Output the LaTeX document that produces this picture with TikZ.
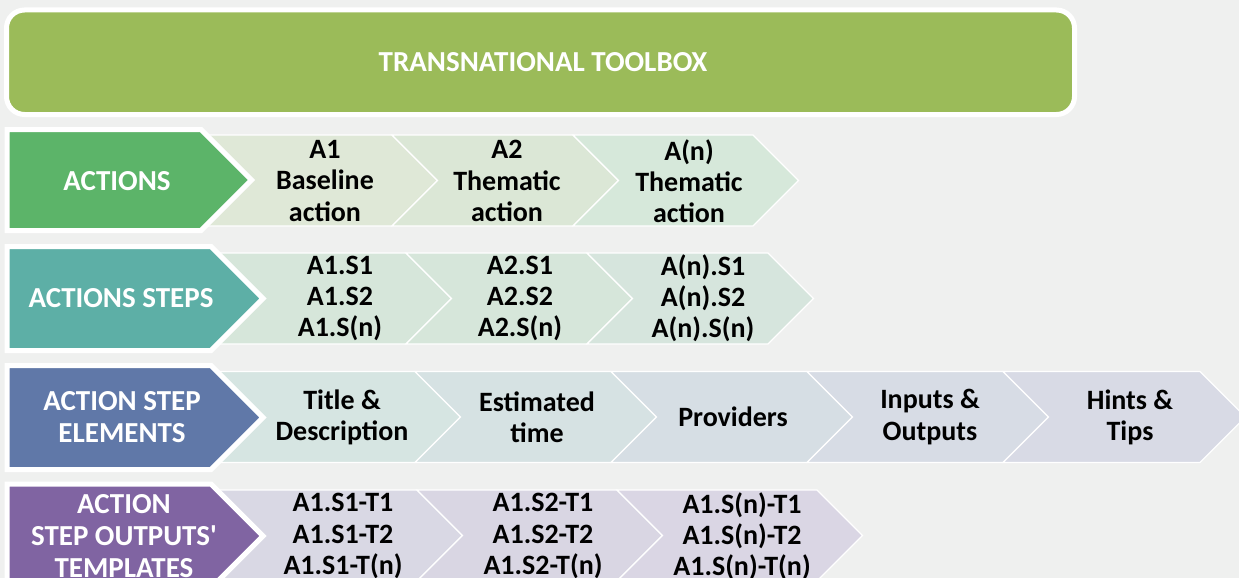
\documentclass[tikz,border=0pt]{standalone}
\usepackage{fontspec}
\setmainfont{Carlito}
\definecolor{bgcol}{RGB}{239,240,239}
\definecolor{bannergreen}{RGB}{155,187,89}
\definecolor{mgreen}{RGB}{92,180,105}
\definecolor{mteal}{RGB}{93,175,166}
\definecolor{mblue}{RGB}{96,120,168}
\definecolor{mpurple}{RGB}{128,100,162}
\definecolor{la}{RGB}{223,232,215}
\definecolor{lb}{RGB}{219,231,214}
\definecolor{lc}{RGB}{214,232,218}
\definecolor{ld}{RGB}{214,230,218}
\definecolor{le}{RGB}{214,229,221}
\definecolor{lf}{RGB}{214,229,224}
\definecolor{lg}{RGB}{214,229,226}
\definecolor{lh}{RGB}{214,226,227}
\definecolor{li}{RGB}{214,222,228}
\definecolor{lj}{RGB}{215,220,229}
\definecolor{lk}{RGB}{216,218,229}
\definecolor{ll}{RGB}{217,216,228}
\definecolor{lm}{RGB}{217,214,227}
\definecolor{ln}{RGB}{218,214,228}
% light chevron with notch: color, left x, width, centre y
\newcommand\lchev[4]{%
  \path[lchevstyle, fill=#1] (#2,#4-45.5) -- (#2+#3,#4-45.5) -- (#2+#3+45.5,#4)
    -- (#2+#3,#4+45.5) -- (#2,#4+45.5) -- (#2+45.5,#4) -- cycle;}
% first light chevron, flat left edge hidden behind the main chevron
\newcommand\fchev[3]{%
  \path[lchevstyle, fill=#1] (150,#3-45.5) -- (#2,#3-45.5) -- (#2+45.5,#3)
    -- (#2,#3+45.5) -- (150,#3+45.5) -- cycle;}
% main chevron: color, corner x, centre y, half height
\newcommand\mchev[4]{%
  \path[mchevstyle, fill=#1] (7,#3-#4) -- (#2,#3-#4) -- (#2+#4,#3)
    -- (#2,#3+#4) -- (7,#3+#4) -- cycle;}
\begin{document}
\begin{tikzpicture}[x=1pt,y=-1pt,
  lchevstyle/.style={draw=white, line width=1.2pt, line join=miter},
  mchevstyle/.style={draw=white, line width=5pt, line join=miter},
  lbl/.style={font=\bfseries\fontsize{28}{31.2}\selectfont, align=center, text=black, inner sep=0pt},
  mlbl/.style={lbl, font=\bfseries\fontsize{29}{31.8}\selectfont, text=white}]
\clip (0,0) rectangle (1239,578);
\fill[bgcol] (0,0) rectangle (1239,578);
% banner
\path[draw=white, line width=5pt, fill=bannergreen, rounded corners=18pt] (6.5,10) rectangle (1074.5,114.5);
\node[mlbl, font=\bfseries\fontsize{29}{31}\selectfont] (title) at (543,62) {TRANSNATIONAL TOOLBOX};
% row 1
\fchev{la}{392}{180.5}
\lchev{lb}{392}{181}{180.5}
\lchev{lc}{573}{180}{180.5}
\mchev{mgreen}{201}{180}{50.5}
\node[mlbl] (actions) at (117,181) {ACTIONS};
\node[lbl] (a1) at (325,181) {A1\\Baseline\\action};
\node[lbl] (a2) at (507,181) {A2\\Thematic\\action};
\node[lbl] (an) at (689,181) {A(n)\\Thematic\\action};
% row 2
\fchev{ld}{406}{298.5}
\lchev{ld}{406}{181}{298.5}
\lchev{le}{587}{181}{298.5}
\mchev{mteal}{211}{298.5}{52}
\node[mlbl] (steps) at (121,298.5) {ACTIONS STEPS};
\node[lbl] (s1) at (340,298.5) {A1.S1\\A1.S2\\A1.S(n)};
\node[lbl] (s2) at (520,298.5) {A2.S1\\A2.S2\\A2.S(n)};
\node[lbl] (sn) at (703,298.5) {A(n).S1\\A(n).S2\\A(n).S(n)};
% row 3
\fchev{lg}{415}{417}
\lchev{lh}{415}{196}{417}
\lchev{li}{611}{196}{417}
\lchev{lj}{807}{196}{417}
\lchev{lk}{1003}{197}{417}
\mchev{mblue}{211}{417.5}{52}
\node[mlbl] (elements) at (122,417) {ACTION STEP\\ELEMENTS};
\node[lbl] (e1) at (342,417) {Title \&\\Description};
\node[lbl] (e2) at (537,417) {Estimated\\time};
\node[lbl] (e3) at (733,417) {Providers};
\node[lbl] (e4) at (930,417) {Inputs \&\\Outputs};
\node[lbl] (e5) at (1130,417) {Hints \&\\Tips};
% row 4
\fchev{ll}{417}{535.5}
\lchev{lm}{417}{200}{535.5}
\lchev{ln}{617}{200}{535.5}
\mchev{mpurple}{211}{536}{52}
\node[mlbl] (templates) at (124,536) {ACTION\\STEP OUTPUTS\textquotesingle\\TEMPLATES};
\node[lbl] (t1) at (343,536) {A1.S1-T1\\A1.S1-T2\\A1.S1-T(n)};
\node[lbl] (t2) at (543,536) {A1.S2-T1\\A1.S2-T2\\A1.S2-T(n)};
\node[lbl] (tn) at (742,536) {A1.S(n)-T1\\A1.S(n)-T2\\A1.S(n)-T(n)};
\end{tikzpicture}
\end{document}
